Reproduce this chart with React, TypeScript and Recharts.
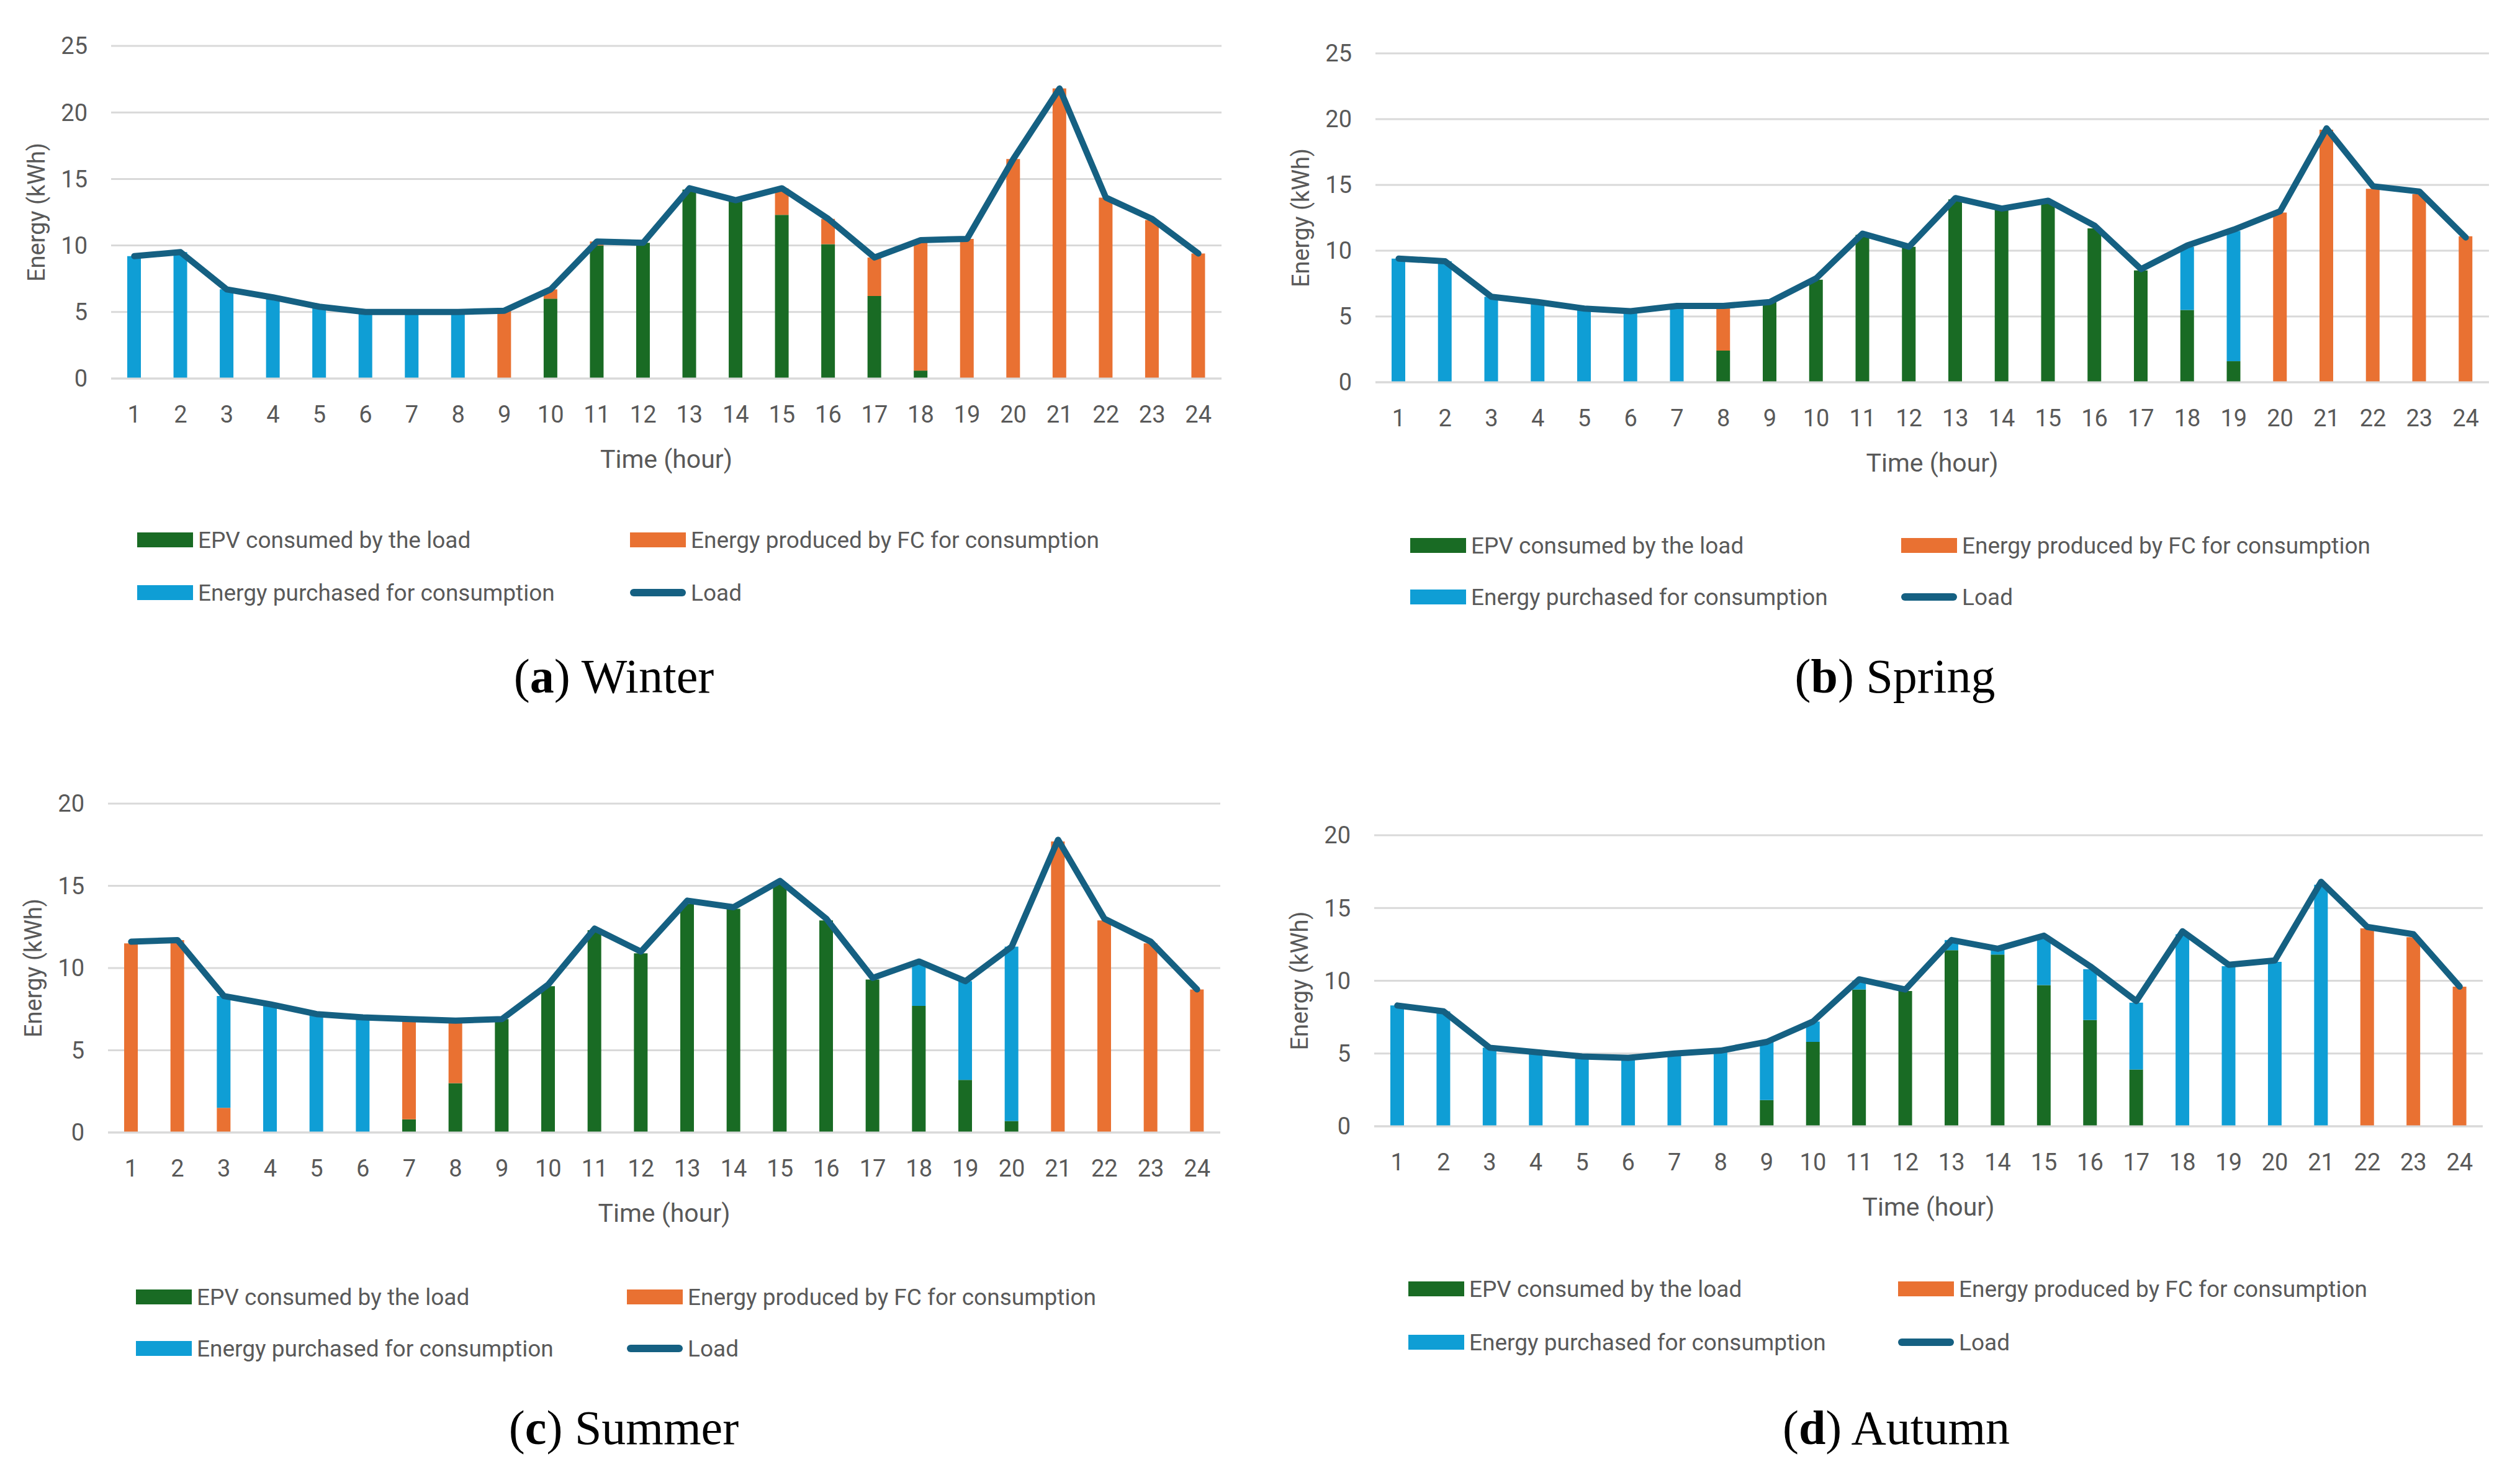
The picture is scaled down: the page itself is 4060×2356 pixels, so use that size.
import React from 'react';
import { ComposedChart, Bar, Line, XAxis, YAxis, CartesianGrid } from 'recharts';

const hours = [1, 2, 3, 4, 5, 6, 7, 8, 9, 10, 11, 12, 13, 14, 15, 16, 17, 18, 19, 20, 21, 22, 23, 24];

const seriesNames = {
  epv: 'EPV consumed by the load',
  fc: 'Energy produced by FC for consumption',
  grid: 'Energy purchased for consumption',
  load: 'Load',
};

const winterEPV = [0, 0, 0, 0, 0, 0, 0, 0, 0, 6.0, 10.0, 10.2, 14.2, 13.4, 12.3, 10.1, 6.2, 0.6, 0, 0, 0, 0, 0, 0];
const winterFC = [0, 0, 0, 0, 0, 0, 0, 0, 5.1, 0.7, 0.3, 0, 0, 0, 2.0, 1.9, 2.9, 9.8, 10.5, 16.5, 21.8, 13.6, 11.9, 9.4];
const winterGrid = [9.2, 9.5, 6.7, 6.1, 5.4, 5.0, 5.0, 5.0, 0, 0, 0, 0, 0, 0, 0, 0, 0, 0, 0, 0, 0, 0, 0, 0];
const winterLoad = [9.2, 9.5, 6.7, 6.1, 5.4, 5.0, 5.0, 5.0, 5.1, 6.7, 10.3, 10.2, 14.3, 13.4, 14.3, 12.0, 9.1, 10.4, 10.5, 16.5, 21.8, 13.6, 12.0, 9.4];

const springEPV = [0, 0, 0, 0, 0, 0, 0, 2.4, 6.1, 7.8, 11.2, 10.3, 13.9, 13.1, 13.7, 11.7, 8.5, 5.5, 1.6, 0, 0, 0, 0, 0];
const springFC = [0, 0, 0, 0, 0, 0, 0, 3.4, 0, 0, 0, 0, 0, 0, 0, 0, 0, 0, 0, 12.9, 19.2, 14.7, 14.3, 11.1];
const springGrid = [9.4, 9.2, 6.5, 6.1, 5.6, 5.4, 5.8, 0, 0, 0, 0, 0, 0, 0, 0, 0, 0, 4.8, 9.9, 0, 0, 0, 0, 0];
const springLoad = [9.4, 9.2, 6.5, 6.1, 5.6, 5.4, 5.8, 5.8, 6.1, 7.9, 11.3, 10.3, 14.0, 13.2, 13.8, 11.9, 8.6, 10.4, 11.6, 13.0, 19.3, 14.9, 14.5, 11.0];

const summerEPV = [0, 0, 0, 0, 0, 0, 0.8, 3.0, 6.9, 8.9, 12.3, 10.9, 13.9, 13.6, 15.1, 12.9, 9.3, 7.7, 3.2, 0.7, 0, 0, 0, 0];
const summerFC = [11.5, 11.7, 1.5, 0, 0, 0, 6.0, 3.7, 0, 0, 0, 0, 0, 0, 0, 0, 0, 0, 0, 0, 17.7, 12.9, 11.5, 8.7];
const summerGrid = [0, 0, 6.8, 7.8, 7.2, 7.0, 0, 0, 0, 0, 0, 0, 0, 0, 0, 0, 0, 2.6, 6.0, 10.6, 0, 0, 0, 0];
const summerLoad = [11.6, 11.7, 8.3, 7.8, 7.2, 7.0, 6.9, 6.8, 6.9, 9.0, 12.4, 11.0, 14.1, 13.7, 15.3, 13.0, 9.4, 10.4, 9.2, 11.3, 17.8, 13.0, 11.6, 8.7];

const autumnEPV = [0, 0, 0, 0, 0, 0, 0, 0, 1.8, 5.8, 9.4, 9.3, 12.1, 11.8, 9.7, 7.3, 3.9, 0, 0, 0, 0, 0, 0, 0];
const autumnFC = [0, 0, 0, 0, 0, 0, 0, 0, 0, 0, 0, 0, 0, 0, 0, 0, 0, 0, 0, 0, 0, 13.6, 13.0, 9.6];
const autumnGrid = [8.3, 7.9, 5.4, 5.1, 4.8, 4.7, 5.0, 5.2, 4.0, 1.4, 0.6, 0, 0.7, 0.4, 3.3, 3.5, 4.6, 13.2, 11.0, 11.3, 16.6, 0, 0, 0];
const autumnLoad = [8.3, 7.9, 5.4, 5.1, 4.8, 4.7, 5.0, 5.2, 5.8, 7.2, 10.1, 9.4, 12.8, 12.2, 13.1, 11.0, 8.6, 13.4, 11.1, 11.4, 16.8, 13.7, 13.2, 9.6];

const ticks25 = [0, 5, 10, 15, 20, 25];
const ticks20 = [0, 5, 10, 15, 20];

const COLORS = { epv: '#196B24', fc: '#E97132', grid: '#0F9ED5', load: '#156082' };
const FONT = 'Roboto, "Liberation Sans", sans-serif';
const TEXT = '#595959';

const build = (epv: number[], fc: number[], grid: number[], load: number[]) =>
  hours.map((h, i) => ({ hour: h, epv: epv[i], fc: fc[i], grid: grid[i], load: load[i] }));

const panels = [
  { key: 'a', letter: 'a', name: 'Winter', data: build(winterEPV, winterFC, winterGrid, winterLoad), max: 25, ticks: ticks25,
    plot: { l: 179, r: 1968, t: 74, b: 610 }, legend: { x1: 221, x2: 1015, y1: 870, y2: 955 }, caption: { x: 989, y: 1090 } },
  { key: 'b', letter: 'b', name: 'Spring', data: build(springEPV, springFC, springGrid, springLoad), max: 25, ticks: ticks25,
    plot: { l: 2216, r: 4010, t: 86, b: 616 }, legend: { x1: 2272, x2: 3063, y1: 879, y2: 962 }, caption: { x: 3053, y: 1090 } },
  { key: 'c', letter: 'c', name: 'Summer', data: build(summerEPV, summerFC, summerGrid, summerLoad), max: 20, ticks: ticks20,
    plot: { l: 174, r: 1966, t: 1295, b: 1825 }, legend: { x1: 219, x2: 1010, y1: 2090, y2: 2173 }, caption: { x: 1005, y: 2301 } },
  { key: 'd', letter: 'd', name: 'Autumn', data: build(autumnEPV, autumnFC, autumnGrid, autumnLoad), max: 20, ticks: ticks20,
    plot: { l: 2214, r: 4000, t: 1346, b: 1815 }, legend: { x1: 2269, x2: 3058, y1: 2077, y2: 2163 }, caption: { x: 3055, y: 2301 } },
];

const YTitle = (props: any) => {
  const vb = props.viewBox || {};
  const cx = vb.x + vb.width - 120;
  const cy = vb.y + vb.height / 2;
  return (
    <text x={cx} y={cy} transform={`rotate(-90 ${cx} ${cy})`} textAnchor="middle" dominantBaseline="central"
      fill={TEXT} fontSize={38} fontFamily={FONT}>Energy (kWh)</text>
  );
};

const XTitle = (props: any) => {
  const vb = props.viewBox || {};
  const cx = vb.x + vb.width / 2;
  const cy = vb.y + 130;
  return (
    <text x={cx} y={cy} textAnchor="middle" dominantBaseline="central" fill={TEXT} fontSize={41} fontFamily={FONT}>Time (hour)</text>
  );
};

const LegendItem = ({ x, y, kind, color, label }: any) => (
  <div style={{ position: 'absolute', left: x, top: y - 30, height: 60, display: 'flex', alignItems: 'center', whiteSpace: 'nowrap' }}>
    {kind === 'line' ? (
      <div style={{ width: 90, height: 12, borderRadius: 6, background: color }} />
    ) : (
      <div style={{ width: 90, height: 24, background: color }} />
    )}
    <span style={{ marginLeft: 8, fontFamily: FONT, fontSize: 37, color: TEXT }}>{label}</span>
  </div>
);

const Panel = ({ p }: any) => {
  const left = p.plot.l - 180;
  const top = p.plot.t - 40;
  const width = p.plot.r - left + 20;
  const height = p.plot.b - top + 170;
  return (
    <>
      <div style={{ position: 'absolute', left, top }}>
        <ComposedChart width={width} height={height} data={p.data} margin={{ top: 40, right: 20, left: 0, bottom: 0 }} barSize={22}>
          <CartesianGrid vertical={false} stroke="#D9D9D9" strokeWidth={3} />
          <XAxis dataKey="hour" interval={0} tickLine={false} axisLine={{ stroke: '#D9D9D9', strokeWidth: 3 }}
            tickMargin={38} height={170} tick={{ fill: TEXT, fontSize: 38, fontFamily: FONT }} label={(lp: any) => <XTitle {...lp} />} />
          <YAxis type="number" domain={[0, p.max]} ticks={p.ticks} width={180} axisLine={false} tickLine={false}
            tickMargin={32} tick={{ fill: TEXT, fontSize: 38, fontFamily: FONT }} label={(lp: any) => <YTitle {...lp} />} />
          <Bar dataKey="epv" name={seriesNames.epv} stackId="s" fill={COLORS.epv} isAnimationActive={false} />
          <Bar dataKey="fc" name={seriesNames.fc} stackId="s" fill={COLORS.fc} isAnimationActive={false} />
          <Bar dataKey="grid" name={seriesNames.grid} stackId="s" fill={COLORS.grid} isAnimationActive={false} />
          <Line type="linear" dataKey="load" name={seriesNames.load} stroke={COLORS.load} strokeWidth={10} dot={false}
            strokeLinejoin="round" strokeLinecap="round" isAnimationActive={false} />
        </ComposedChart>
      </div>
      <LegendItem x={p.legend.x1} y={p.legend.y1} color={COLORS.epv} label={seriesNames.epv} />
      <LegendItem x={p.legend.x2} y={p.legend.y1} color={COLORS.fc} label={seriesNames.fc} />
      <LegendItem x={p.legend.x1} y={p.legend.y2} color={COLORS.grid} label={seriesNames.grid} />
      <LegendItem x={p.legend.x2} y={p.legend.y2} kind="line" color={COLORS.load} label={seriesNames.load} />
      <div style={{ position: 'absolute', left: p.caption.x - 300, top: p.caption.y - 50, width: 600, height: 100,
        display: 'flex', alignItems: 'center', justifyContent: 'center', fontFamily: '"Liberation Serif", serif', fontSize: 78, color: '#000', whiteSpace: 'nowrap' }}>
        <span>(<b>{p.letter}</b>) {p.name}</span>
      </div>
    </>
  );
};

export default function App() {
  return (
    <div style={{ position: 'absolute', left: 0, top: 0, width: 4060, height: 2356, background: '#fff', overflow: 'hidden' }}>
      {panels.map((p) => <Panel key={p.key} p={p} />)}
    </div>
  );
}
